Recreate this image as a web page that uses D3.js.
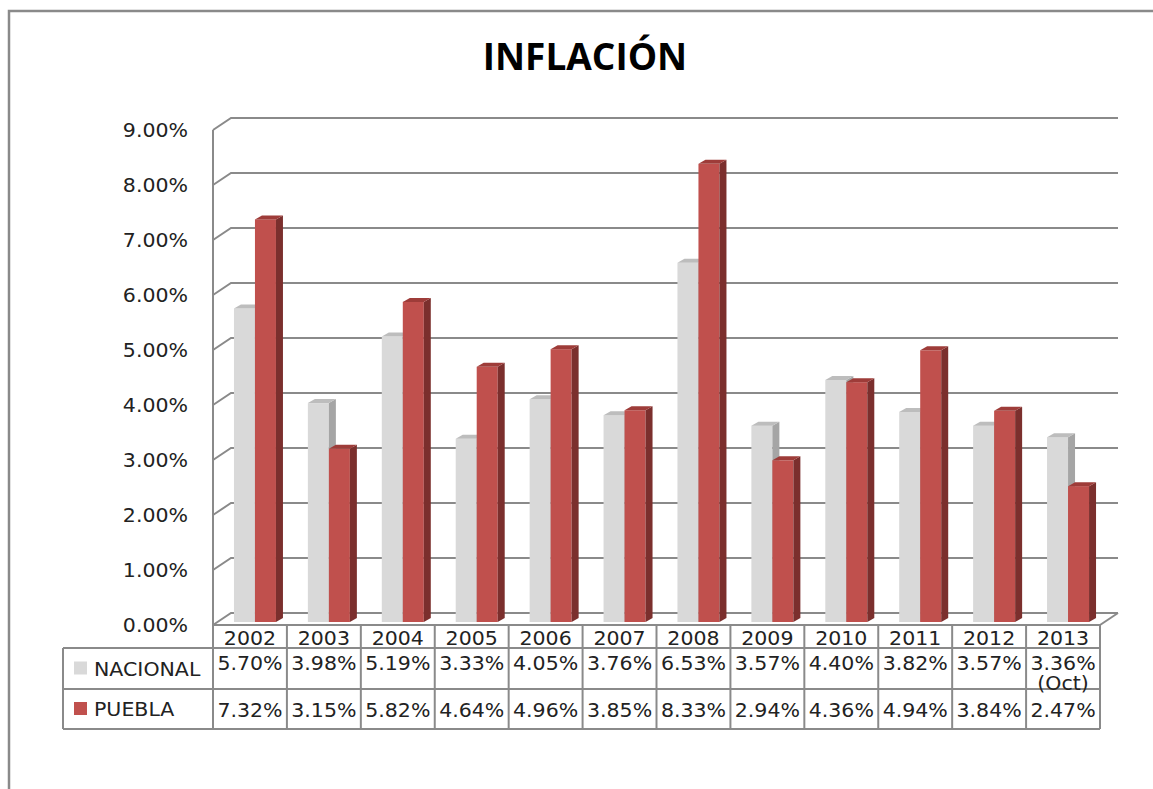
<!DOCTYPE html>
<html>
  <head>
    <meta charset="utf-8">
    <style type="text/css">
      body { margin:0; background:#fff; }
      text { font-family:"DejaVu Sans",Verdana,sans-serif; fill:#222; }
      .title { font-family:"Open Sans",sans-serif; font-weight:700; fill:#000; }
    </style>
  </head>
  <body>
    <div id="canvas"></div>
    <script type="text/javascript" src="https://cdn.jsdelivr.net/npm/d3@7/dist/d3.min.js"></script>
    <script type="text/javascript">
      var years = ['2002','2003','2004','2005','2006','2007','2008','2009','2010','2011','2012','2013'];
      var yearNotes = ['','','','','','','','','','','','(Oct)'];
      var seriesNames = ['NACIONAL','PUEBLA'];
      var nacional = [5.70,3.98,5.19,3.33,4.05,3.76,6.53,3.57,4.40,3.82,3.57,3.36];
      var puebla = [7.32,3.15,5.82,4.64,4.96,3.85,8.33,2.94,4.36,4.94,3.84,2.47];
      var yTicks = [0,1,2,3,4,5,6,7,8,9];

      (function() {
        var width = 1153, height = 789;
        var series = [nacional, puebla];
        var colors = [
          {front:'#d9d9d9', side:'#a5a5a5', top:'#bdbdbd'},
          {front:'#c0504d', side:'#7b2f2d', top:'#9e3c39'}
        ];
        var lineColor = '#8a8a8a';

        // 3d offsets: back wall and bar depth
        var back = {dx:18, dy:-12};
        var bar = {dx:5, dy:-3};
        var bd = {dx:7, dy:-4};   // thickness of each bar

        var svg = d3.select('#canvas').append('svg')
          .attr('width', width).attr('height', height);

        // outer frame (left and top only visible)
        svg.append('path')
          .attr('d', 'M9,789 L9,11 L1153,11')
          .attr('fill', 'none').attr('stroke', lineColor).attr('stroke-width', 2.5);

        svg.append('text').attr('class', 'title')
          .attr('x', 585).attr('y', 70)
          .attr('text-anchor', 'middle')
          .style('font-size', '37px')
          .text('INFLACIÓN');

        var x = d3.scaleBand().domain(years).range([213, 1100]).padding(0);
        var inner = d3.scaleBand().domain([0, 1])
          .range([x.bandwidth()/2 - 21, x.bandwidth()/2 + 21]);
        var y = d3.scaleLinear().domain([0, 9]).range([625, 130]);

        // gridlines on the back wall + left wall diagonals
        var grid = svg.append('g').attr('fill', 'none')
          .attr('stroke', lineColor).attr('stroke-width', 2);
        yTicks.forEach(function (t) {
          grid.append('path').attr('d',
            'M213,' + y(t) + ' L' + (213 + back.dx) + ',' + (y(t) + back.dy) +
            ' L' + (1100 + back.dx) + ',' + (y(t) + back.dy));
        });
        grid.append('path').attr('d', 'M213,' + y(9) + ' L213,' + y(0));
        grid.append('path').attr('d',
          'M1100,' + y(0) + ' L' + (1100 + back.dx) + ',' + (y(0) + back.dy));

        // y axis labels
        svg.append('g').selectAll('text').data(yTicks).enter().append('text')
          .attr('transform', function (d) { return 'translate(188,' + (y(d) + 7) + ') scale(1.08,1)'; })
          .attr('text-anchor', 'end')
          .style('font-size', '19px')
          .text(function (d) { return d.toFixed(2) + '%'; });

        // bars
        var bars = svg.append('g');
        years.forEach(function (yr, i) {
          series.forEach(function (s, k) {
            var x0 = x(yr) + inner(k) + bar.dx;
            var w = inner.bandwidth();
            var yb = y(0) + bar.dy;
            var yt = y(s[i]) + bar.dy;
            var c = colors[k];
            bars.append('rect').attr('x', x0).attr('y', yt)
              .attr('width', w).attr('height', yb - yt).attr('fill', c.front);
            bars.append('path').attr('fill', c.side).attr('d',
              'M' + (x0 + w) + ',' + yt + ' L' + (x0 + w + bd.dx) + ',' + (yt + bd.dy) +
              ' L' + (x0 + w + bd.dx) + ',' + (yb + bd.dy) + ' L' + (x0 + w) + ',' + yb + 'Z');
            bars.append('path').attr('fill', c.top).attr('d',
              'M' + x0 + ',' + yt + ' L' + (x0 + bd.dx) + ',' + (yt + bd.dy) +
              ' L' + (x0 + w + bd.dx) + ',' + (yt + bd.dy) + ' L' + (x0 + w) + ',' + yt + 'Z');
          });
        });

        // data table
        var rowTop = [625, 648, 689, 729];
        var tbl = svg.append('g').attr('fill', 'none')
          .attr('stroke', lineColor).attr('stroke-width', 2);
        tbl.append('path').attr('d', 'M213,625 L1100,625');
        tbl.append('path').attr('d', 'M63,648 L1100,648 M63,689 L1100,689 M63,729 L1100,729');
        tbl.append('path').attr('d', 'M63,648 L63,729');
        years.forEach(function (yr) {
          tbl.append('path').attr('d', 'M' + x(yr) + ',625 L' + x(yr) + ',729');
        });
        tbl.append('path').attr('d', 'M1100,625 L1100,729');

        var cells = svg.append('g');
        years.forEach(function (yr, i) {
          var cx = x(yr) + x.bandwidth()/2;
          cells.append('text')
            .attr('transform', 'translate(' + cx + ',645) scale(1.08,1)')
            .attr('text-anchor', 'middle').style('font-size', '19px').text(yr);
          if (yearNotes[i]) {
            cells.append('text')
              .attr('transform', 'translate(' + cx + ',690) scale(1.08,1)')
              .attr('text-anchor', 'middle').style('font-size', '19px').text(yearNotes[i]);
          }
          series.forEach(function (s, k) {
            cells.append('text')
              .attr('transform', 'translate(' + cx + ',' + (k === 0 ? 670 : 717) + ') scale(1.08,1)')
              .attr('text-anchor', 'middle').style('font-size', '19px')
              .text(s[i].toFixed(2) + '%');
          });
        });

        // legend keys in the table
        seriesNames.forEach(function (name, k) {
          var cy = (rowTop[k + 1] + rowTop[k + 2]) / 2;
          cells.append('rect').attr('x', 74).attr('y', cy - 7)
            .attr('width', 13).attr('height', 13).attr('fill', colors[k].front);
          cells.append('text')
            .attr('transform', 'translate(94,' + (cy + 7) + ') scale(1.08,1)')
            .style('font-size', '19px').text(name);
        });
      })();
    </script>
  </body>
</html>
